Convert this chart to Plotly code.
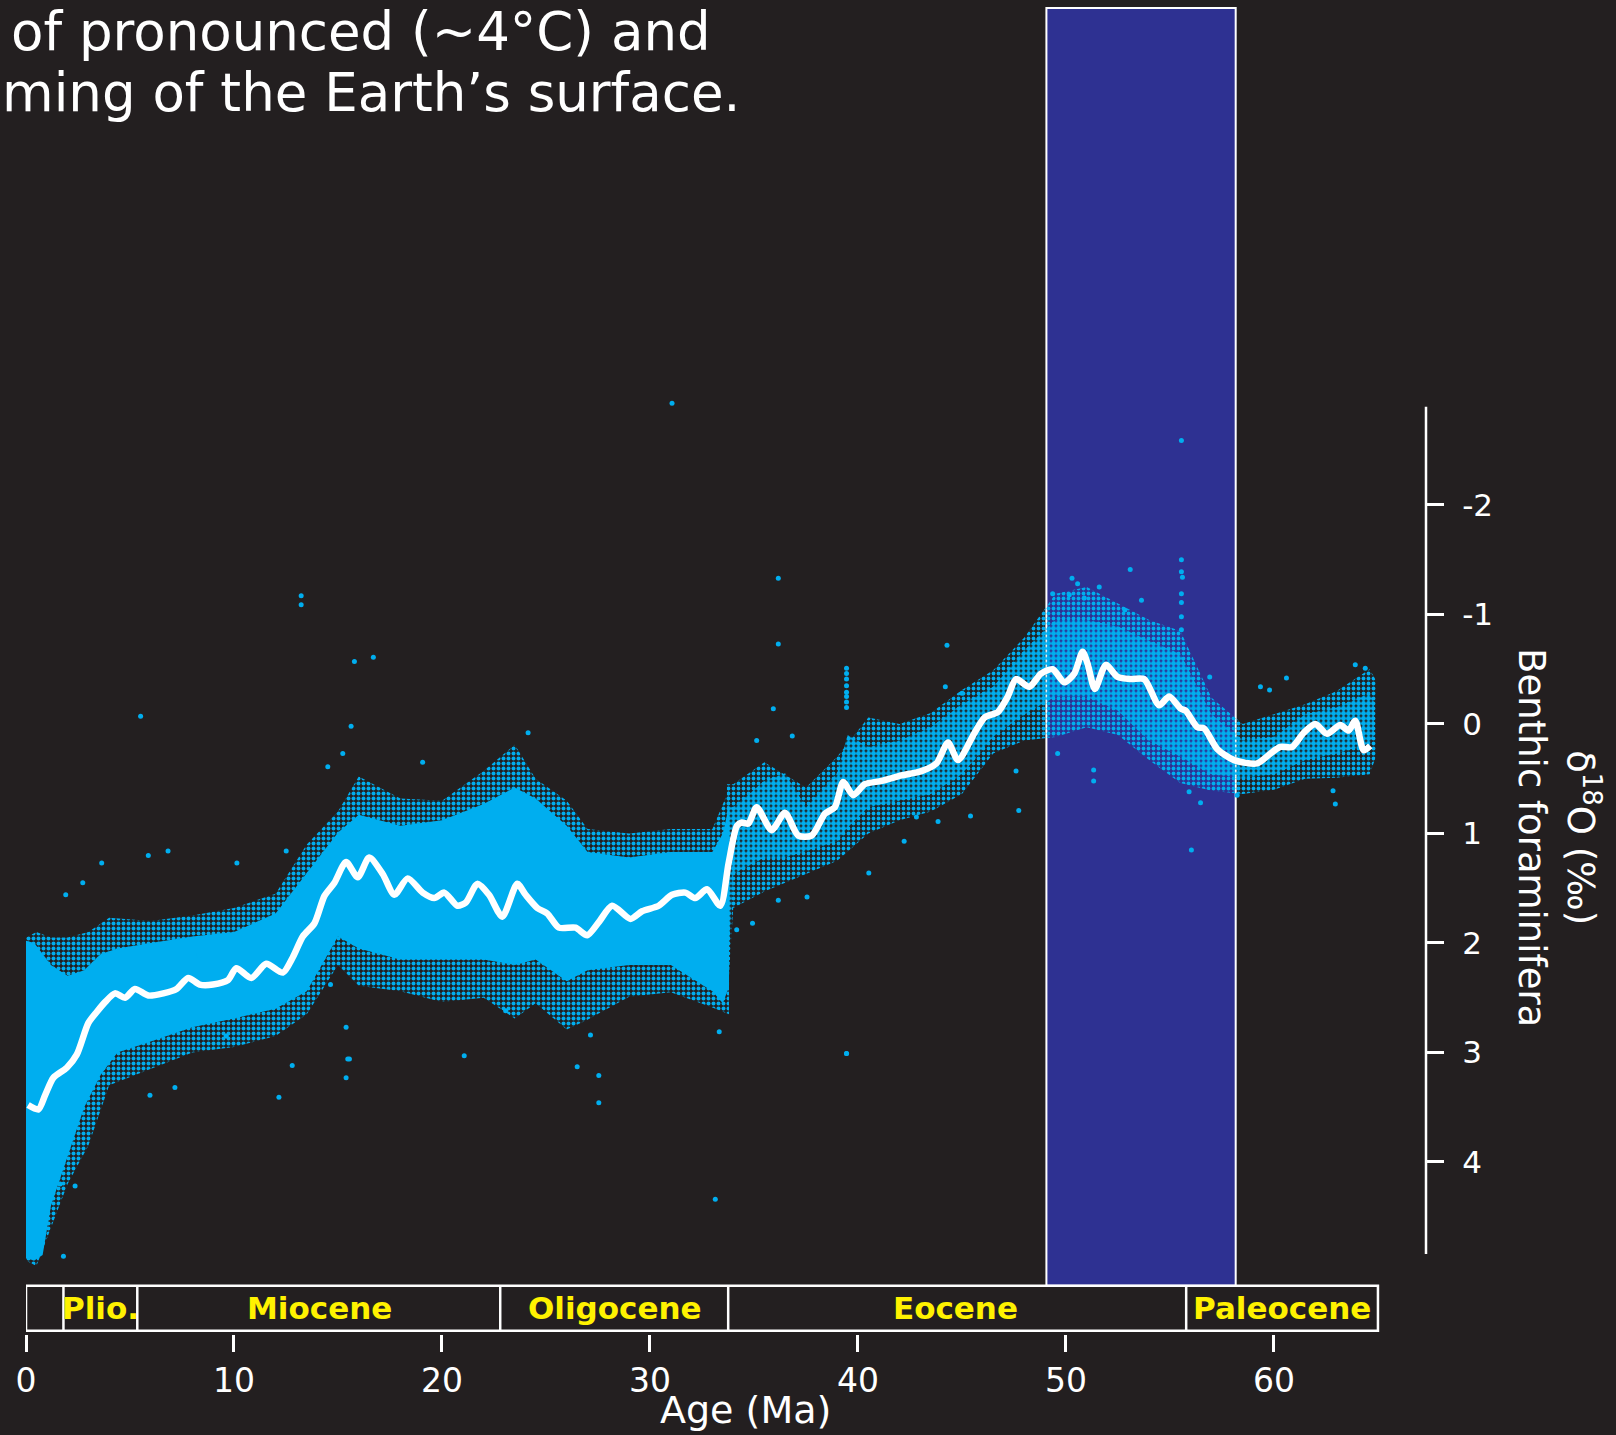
import plotly.graph_objects as go

# ---------------- data ----------------
# smoothed benthic d18O curve
line_age = [0.1, 0.6, 0.92, 1.32, 1.96, 2.44, 3.0, 3.4, 3.8, 4.28, 4.76, 5.24, 5.88, 6.6, 7.24, 7.8,
            8.35, 8.99, 9.71, 10.11, 10.83, 11.55, 12.35, 12.83, 13.31, 13.87, 14.35, 14.83, 15.39,
            15.95, 16.5, 17.15, 17.71, 18.35, 19.07, 19.63, 20.11, 20.74, 21.15, 21.7, 22.26, 22.9,
            23.62, 24.02, 24.58, 25.06, 25.62, 26.42, 26.98, 27.54, 28.18, 29.06, 29.62, 30.42,
            31.06, 31.7, 32.18, 32.74, 33.38, 33.78, 34.18, 34.41, 34.73, 35.13, 35.85, 36.49,
            37.13, 37.77, 38.41, 38.89, 39.29, 39.77, 40.33, 41.13, 42.09, 43.05, 43.77, 44.33,
            44.81, 45.61, 46.09, 46.73, 47.2, 47.6, 48.24, 48.8, 49.36, 49.92, 50.4, 50.8, 51.04,
            51.39, 51.92, 52.48, 53.12, 53.76, 54.48, 54.96, 55.52, 55.76, 56.32, 56.64, 57.28,
            58.08, 59.19, 59.83, 60.31, 60.87, 61.43, 61.99, 62.55, 63.19, 63.59, 63.91, 64.31, 64.63]
line_d18o = [3.48, 3.52, 3.39, 3.23, 3.14, 3.02, 2.73, 2.63, 2.54, 2.46, 2.50, 2.42, 2.48, 2.46, 2.42,
             2.32, 2.38, 2.38, 2.34, 2.23, 2.32, 2.19, 2.27, 2.13, 1.94, 1.82, 1.57, 1.45, 1.26, 1.40,
             1.22, 1.37, 1.56, 1.41, 1.54, 1.59, 1.54, 1.66, 1.63, 1.46, 1.56, 1.76, 1.46, 1.56, 1.68,
             1.73, 1.86, 1.86, 1.93, 1.81, 1.66, 1.78, 1.71, 1.66, 1.56, 1.54, 1.59, 1.51, 1.66, 1.27,
             0.93, 0.90, 0.91, 0.76, 0.97, 0.81, 1.02, 1.02, 0.82, 0.76, 0.53, 0.65, 0.55, 0.52, 0.47,
             0.43, 0.36, 0.17, 0.33, 0.08, -0.06, -0.11, -0.25, -0.41, -0.34, -0.46, -0.50, -0.38,
             -0.46, -0.66, -0.55, -0.32, -0.54, -0.43, -0.41, -0.41, -0.17, -0.25, -0.14, -0.12, 0.03,
             0.04, 0.23, 0.33, 0.36, 0.27, 0.21, 0.21, 0.08, 0.00, 0.09, 0.01, 0.06, -0.03, 0.24, 0.20]

# dense data cloud (Neogene + Oligocene): core and outer halo envelopes
core1_age = [0.0, 0.4, 0.8, 1.2, 2.0, 2.8, 3.6, 4.4, 6.0, 8.0, 10.0, 12.0, 13.5, 15.0, 16.0, 18.0,
             20.0, 22.0, 23.5, 24.5, 26.0, 27.0, 29.0, 31.0, 33.0, 33.5, 33.8]
core1_top = [1.98, 2.0, 2.1, 2.2, 2.3, 2.25, 2.1, 2.05, 2.0, 1.94, 1.9, 1.73, 1.36, 0.99, 0.83, 0.93,
             0.88, 0.73, 0.58, 0.68, 0.93, 1.17, 1.22, 1.17, 1.17, 1.0, 0.75]
core1_bottom = [4.88, 4.9, 4.85, 4.4, 3.95, 3.5, 3.2, 3.0, 2.9, 2.77, 2.69, 2.6, 2.44, 1.94, 2.05, 2.15,
                2.15, 2.15, 2.2, 2.15, 2.35, 2.25, 2.2, 2.2, 2.44, 2.55, 2.4]
halo1_age = [0.0, 0.5, 1.2, 2.0, 3.0, 4.0, 6.0, 8.0, 10.0, 12.0, 13.5, 15.0, 16.0, 18.0, 20.0, 22.0,
             23.5, 24.5, 26.0, 27.0, 29.0, 31.0, 33.0, 33.8]
halo1_top = [1.95, 1.9, 1.95, 1.95, 1.9, 1.77, 1.8, 1.75, 1.68, 1.55, 1.1, 0.8, 0.48, 0.68, 0.7, 0.43,
             0.19, 0.5, 0.7, 0.96, 1.0, 0.96, 0.96, 0.6]
halo1_bottom = [4.9, 4.95, 4.6, 4.2, 3.85, 3.3, 3.15, 3.0, 2.95, 2.85, 2.65, 2.2, 2.39, 2.44, 2.54, 2.5,
                2.69, 2.55, 2.79, 2.7, 2.49, 2.45, 2.59, 2.65]

# sparser data cloud (Eocene + Paleocene)
core2_age = [33.7, 34.0, 35.5, 36.5, 37.5, 39.0, 39.5, 40.5, 42.0, 43.5, 45.0, 46.5, 48.0, 49.5, 51.0,
             52.5, 54.0, 55.5, 57.0, 58.5, 60.0, 61.5, 63.0, 64.6, 64.8]
core2_top = [0.75, 0.76, 0.52, 0.45, 0.76, 0.45, 0.1, 0.21, 0.15, 0.03, -0.18, -0.34, -0.67, -0.95, -0.95,
             -0.89, -0.76, -0.64, -0.09, 0.15, 0.12, -0.09, -0.15, -0.28, -0.2]
core2_bottom = [2.4, 1.37, 1.22, 1.22, 1.16, 1.07, 0.95, 0.76, 0.70, 0.64, 0.46, 0.12, -0.09, -0.25, -0.25,
                -0.12, 0.15, 0.30, 0.46, 0.49, 0.46, 0.33, 0.27, 0.18, 0.1]
halo2_age = [33.7, 34.0, 35.5, 37.5, 39.0, 40.5, 42.0, 43.5, 45.0, 46.5, 48.0, 49.5, 51.0, 52.5, 54.0,
             55.5, 57.0, 58.5, 60.0, 61.5, 63.0, 64.6, 64.9]
halo2_top = [0.55, 0.55, 0.35, 0.58, 0.3, -0.06, 0.0, -0.1, -0.31, -0.49, -0.79, -1.19, -1.25, -1.1, -0.95,
             -0.85, -0.24, 0.0, -0.09, -0.18, -0.3, -0.5, -0.4]
halo2_bottom = [2.6, 1.68, 1.53, 1.37, 1.25, 1.0, 0.88, 0.8, 0.64, 0.27, 0.15, 0.12, 0.03, 0.1, 0.33,
                0.54, 0.61, 0.64, 0.6, 0.5, 0.49, 0.46, 0.3]

# isolated individual measurements
out_age = [31.06, 33.14, 55.55, 55.55, 55.55, 55.6, 55.55, 55.55, 55.55, 55.55, 53.09, 50.29, 50.56,
           51.6, 49.36, 50.16, 50.88, 53.63, 52.83, 56.91, 60.6, 63.91, 64.39, 59.35, 59.79, 56.03,
           51.33, 51.33, 49.6, 62.95, 62.84, 56.47, 55.92, 58.23, 36.17, 36.17, 35.93, 36.84, 35.13,
           44.28, 44.2, 45.0, 47.6, 47.73, 42.22, 40.52, 42.81, 43.85, 45.41, 34.93, 34.17, 36.17,
           37.55, 15.79, 16.7, 15.63, 24.14, 19.07, 27.54, 27.54, 26.5, 21.07, 27.14, 23.06, 33.33,
           15.55, 13.23, 13.23, 5.51, 15.23, 14.51, 1.8, 2.36, 1.64, 12.16, 12.8, 7.16, 5.96, 3.64,
           2.73, 1.91, 5.88, 6.83, 10.14, 12.51, 15.39, 15.47, 15.39, 14.64, 8.31, 9.63,
           39.45, 39.45, 39.45, 39.45, 39.45, 39.45, 39.45, 39.45, 39.45, 39.45]
out_d18o = [-2.93, 4.34, -2.59, -1.50, -1.39, -1.34, -1.19, -1.11, -0.98, -0.86, -1.41, -1.33, -1.28,
            -1.25, -1.19, -1.18, -1.15, -1.13, -1.04, -0.43, -0.42, -0.54, -0.51, -0.34, -0.31, 1.15,
            0.42, 0.52, 0.27, 0.73, 0.61, 0.72, 0.62, 0.65, -1.33, -0.73, -0.14, 0.11, 0.15,
            -0.72, -0.34, -0.28, 0.43, 0.79, 1.07, 1.36, 0.85, 0.89, 0.84, 1.82, 1.88, 1.61,
            1.58, -0.57, -0.61, 0.02, 0.08, 0.35, 3.46, 3.21, 3.13, 3.03, 2.84, 2.62, 2.81,
            3.06, -1.17, -1.09, -0.07, 0.27, 0.39, 4.86, 4.22, 4.2, 3.41, 3.12, 3.32, 3.39, 1.27,
            1.45, 1.56, 1.20, 1.16, 1.27, 1.16, 3.23, 3.06, 2.77, 2.38, 2.11, 2.85, 3.01, 3.01,
            -0.51, -0.46, -0.41, -0.35, -0.29, -0.25, -0.20, -0.15, -0.09, -0.03]

# geological epochs (boundaries in Ma) and labels
epoch_bounds = [0.0, 1.8, 5.35, 22.8, 33.76, 55.78, 65.0]
epoch_names = ["Plio.", "Miocene", "Oligocene", "Eocene", "Paleocene"]
epoch_label_x = [3.58, 14.1, 28.3, 44.7, 60.4]

# highlighted interval (Ma)
highlight = [49.06, 58.16]

x_ticks = [0, 10, 20, 30, 40, 50, 60]
y_ticks = [-2, -1, 0, 1, 2, 3, 4]
y_ticktext = ["-2", "-1", "0", "1", "2", "3", "4"]

# ---------------- styling ----------------
BG = "#231F20"
CYAN = "#00AEEF"
FONT = "DejaVu Sans"
CLEAR = "rgba(0,0,0,0)"

fig = go.Figure()


def band(age, top, bottom, solidity=None, size=5):
    xs = list(age) + list(age)[::-1]
    ys = list(top) + list(bottom)[::-1]
    kw = dict(x=xs, y=ys, mode="lines", fill="toself", line=dict(width=0, color=CLEAR),
              hoverinfo="skip", showlegend=False)
    if solidity is None:
        kw["fillcolor"] = CYAN
    else:
        kw["fillcolor"] = CLEAR
        kw["fillpattern"] = dict(shape=".", fgcolor=CYAN, bgcolor=CLEAR, size=size,
                                 solidity=solidity, fillmode="replace")
    return go.Scatter(**kw)


fig.add_trace(band(halo1_age, halo1_top, halo1_bottom, solidity=0.5, size=5))
fig.add_trace(band(core1_age, core1_top, core1_bottom))
fig.add_trace(band(halo2_age, halo2_top, halo2_bottom, solidity=0.45, size=5))
fig.add_trace(band(core2_age, core2_top, core2_bottom, solidity=0.75, size=5))

fig.add_trace(go.Scatter(x=out_age, y=out_d18o, mode="markers",
                         marker=dict(color=CYAN, size=5, line=dict(width=0)),
                         hoverinfo="skip", showlegend=False))

fig.add_trace(go.Scatter(x=line_age, y=line_d18o, mode="lines",
                         line=dict(color="white", width=6.5, shape="spline", smoothing=0.7),
                         hoverinfo="skip", showlegend=False))

shapes = []
# highlighted interval
shapes.append(dict(type="rect", xref="x", yref="y", x0=highlight[0], x1=highlight[1],
                   y0=-6.539, y1=5.130, fillcolor="#2E3192",
                   line=dict(color="white", width=2), layer="below"))
# epoch box
shapes.append(dict(type="rect", xref="x", yref="y", x0=epoch_bounds[0], x1=epoch_bounds[-1],
                   y0=5.130, y1=5.541, line=dict(color="white", width=2.5), layer="above"))
for b in epoch_bounds[1:-1]:
    shapes.append(dict(type="line", xref="x", yref="y", x0=b, x1=b, y0=5.130, y1=5.541,
                       line=dict(color="white", width=2.5), layer="above"))
# right-hand y axis line (partial height)
shapes.append(dict(type="line", xref="paper", yref="paper", x0=1, x1=1, y0=0.0602, y1=0.6982,
                   line=dict(color="white", width=2.5)))

annotations = []
for name, xc in zip(epoch_names, epoch_label_x):
    annotations.append(dict(x=xc, y=5.336, xref="x", yref="y", text=name, showarrow=False,
                            font=dict(family=FONT, size=31, color="#FFF200", weight="bold"),
                            xanchor="center", yanchor="middle"))
annotations.append(dict(x=34.6, y=-0.0575, xref="x", yref="paper", text="Age (Ma)", showarrow=False,
                        font=dict(family=FONT, size=38, color="white"),
                        xanchor="center", yanchor="middle"))
annotations.append(dict(x=1.095, y=0.3742, xref="paper", yref="paper",
                        text="δ<sup>18</sup>O (‰)<br>Benthic foraminifera", showarrow=False,
                        textangle=90, font=dict(family=FONT, size=37, color="white"),
                        xanchor="center", yanchor="middle"))
annotations.append(dict(x=-0.0125, y=0.981, xref="paper", yref="paper",
                        text="of pronounced (~4°C) and", showarrow=False,
                        font=dict(family=FONT, size=53, color="white"),
                        xanchor="left", yanchor="middle"))
annotations.append(dict(x=-0.01857, y=0.935, xref="paper", yref="paper",
                        text="ming of the Earth’s surface.", showarrow=False,
                        font=dict(family=FONT, size=53, color="white"),
                        xanchor="left", yanchor="middle"))

fig.update_layout(
    width=1616, height=1435, autosize=False,
    paper_bgcolor=BG, plot_bgcolor=BG,
    margin=dict(l=26, r=190, t=6, b=101, pad=0),
    showlegend=False,
    shapes=shapes, annotations=annotations,
    xaxis=dict(range=[0, 67.31], showgrid=False, zeroline=False, showline=False,
               ticks="outside", ticklen=17, tickwidth=2.5, tickcolor="white",
               tickvals=x_ticks, tickfont=dict(family=FONT, size=33, color="white"),
               fixedrange=True),
    yaxis=dict(range=[5.571, -6.557], side="right", showgrid=False, zeroline=False, showline=False,
               ticks="outside", ticklen=17, tickwidth=2.5, tickcolor="white",
               tickvals=y_ticks, ticktext=y_ticktext, ticklabelstandoff=12,
               tickfont=dict(family=FONT, size=31, color="white"), fixedrange=True),
)

fig.write_html("out.html")
